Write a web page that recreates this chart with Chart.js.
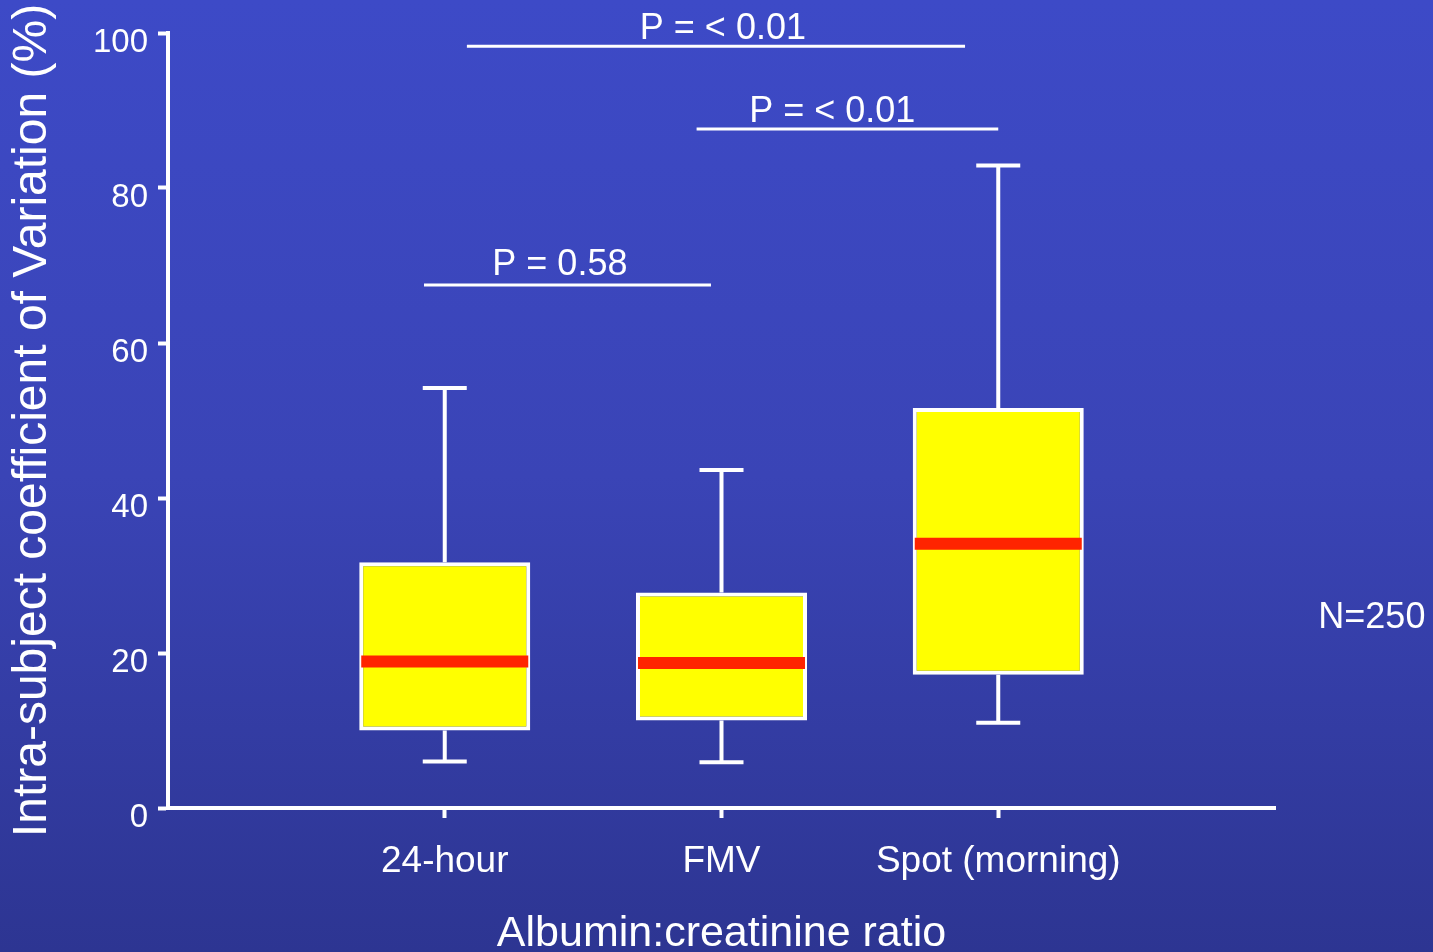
<!DOCTYPE html>
<html>
<head>
<meta charset="utf-8">
<script src="https://cdn.jsdelivr.net/npm/chart.js@4.4.1/dist/chart.umd.min.js"></script>
<style>
  html, body { margin: 0; padding: 0; }
  body {
    width: 1433px; height: 952px; overflow: hidden;
    background: linear-gradient(to bottom, #3d4ac7 0%, #3a44b6 50%, #2d3592 100%);
  }
  #chart { display: block; }
</style>
</head>
<body>
<canvas id="chart" width="1433" height="952"></canvas>
<script>
const categories = ['24-hour', 'FMV', 'Spot (morning)'];
const catPos = [1, 2, 3];
const q1 = [10.0, 11.3, 17.2];
const q3 = [31.7, 27.8, 51.6];
const medians = [18.9, 18.7, 34.1];
const whiskerLow = [6.0, 5.9, 11.0];
const whiskerHigh = [54.2, 43.6, 82.9];

// significance brackets (data units)
const sigLabels = ['P = < 0.01', 'P = < 0.01', 'P = 0.58'];
const sigFrom = [1.08, 1.91, 0.925];
const sigTo = [2.88, 3.0, 1.962];
const sigLevel = [98.3, 87.6, 67.5];
const sigTextX = [2.005, 2.40, 1.416];
const sigTextLevel = [100.5, 89.8, 70.0];

const noteText = 'N=250';
const notePos = [4.35, 24.5];

const font = 'Liberation Sans, Arial, Helvetica, sans-serif';

const boxPlugin = {
    id: 'boxParts',
    beforeDatasetsDraw(chart) {
        const { ctx, scales: { x, y } } = chart;
        const capHalf = 22;
        ctx.save();
        ctx.strokeStyle = '#ffffff';
        ctx.lineWidth = 4;
        catPos.forEach((c, i) => {
            const px = x.getPixelForValue(c);
            const top = y.getPixelForValue(whiskerHigh[i]);
            const bot = y.getPixelForValue(whiskerLow[i]);
            ctx.beginPath();
            ctx.moveTo(px, top); ctx.lineTo(px, y.getPixelForValue(q3[i]));
            ctx.moveTo(px, bot); ctx.lineTo(px, y.getPixelForValue(q1[i]));
            ctx.moveTo(px - capHalf, top); ctx.lineTo(px + capHalf, top);
            ctx.moveTo(px - capHalf, bot); ctx.lineTo(px + capHalf, bot);
            ctx.stroke();
        });
        ctx.restore();
    },
    afterDatasetsDraw(chart) {
        const { ctx, scales: { y } } = chart;
        const meta = chart.getDatasetMeta(0);
        ctx.save();
        ctx.strokeStyle = '#ff2400';
        ctx.lineWidth = 12;
        medians.forEach((m, i) => {
            const bar = meta.data[i];
            const half = bar.width / 2 - 2;
            const py = y.getPixelForValue(m);
            ctx.beginPath();
            ctx.moveTo(bar.x - half, py);
            ctx.lineTo(bar.x + half, py);
            ctx.stroke();
        });
        ctx.restore();
    },
    afterDraw(chart) {
        const { ctx, scales: { x, y } } = chart;
        ctx.save();
        ctx.strokeStyle = '#ffffff';
        ctx.fillStyle = '#ffffff';
        ctx.lineWidth = 3;
        ctx.font = '36px ' + font;
        ctx.textAlign = 'center';
        ctx.textBaseline = 'middle';
        sigLabels.forEach((lab, i) => {
            const ly = y.getPixelForValue(sigLevel[i]);
            ctx.beginPath();
            ctx.moveTo(x.getPixelForValue(sigFrom[i]), ly);
            ctx.lineTo(x.getPixelForValue(sigTo[i]), ly);
            ctx.stroke();
            ctx.fillText(lab, x.getPixelForValue(sigTextX[i]), y.getPixelForValue(sigTextLevel[i]));
        });
        ctx.fillText(noteText, x.getPixelForValue(notePos[0]), y.getPixelForValue(notePos[1]));
        ctx.restore();
    }
};

new Chart(document.getElementById('chart'), {
    type: 'bar',
    data: {
        datasets: [{
            label: 'IQR',
            data: catPos.map((c, i) => ({ x: c, y: [q1[i], q3[i]] })),
            backgroundColor: '#ffff00',
            borderColor: '#ffffff',
            borderWidth: 4,
            borderSkipped: false,
            barPercentage: 0.618,
            categoryPercentage: 1
        }]
    },
    options: {
        responsive: false,
        animation: false,
        events: [],
        layout: { padding: { top: 33, right: 158, left: 0, bottom: 0 } },
        plugins: { legend: { display: false }, tooltip: { enabled: false } },
        scales: {
            x: {
                type: 'linear',
                min: 0, max: 4,
                offset: false,
                afterBuildTicks: s => { s.ticks = catPos.map(v => ({ value: v })); },
                afterFit: s => { s.height = 144; },
                grid: { drawOnChartArea: false, offset: false, tickLength: 10, tickColor: '#ffffff', tickWidth: 4 },
                border: { display: true, color: '#ffffff', width: 4 },
                ticks: {
                    color: '#ffffff',
                    font: { family: font, size: 37 },
                    padding: 22,
                    maxRotation: 0,
                    autoSkip: false,
                    callback: v => categories[catPos.indexOf(v)] || ''
                },
                title: {
                    display: true,
                    text: 'Albumin:creatinine ratio',
                    color: '#ffffff',
                    font: { family: font, size: 43, lineHeight: 1 },
                    padding: { top: 0, bottom: -4 }
                }
            },
            y: {
                min: 0, max: 100,
                afterFit: s => { s.width = 168; },
                grid: { drawOnChartArea: false, tickLength: 10, tickColor: '#ffffff', tickWidth: 4 },
                border: { display: true, color: '#ffffff', width: 4 },
                ticks: {
                    stepSize: 20,
                    color: '#ffffff',
                    font: { family: font, size: 33 },
                    padding: 10,
                    labelOffset: 10
                },
                title: {
                    display: true,
                    text: 'Intra-subject coefficient of Variation (%)',
                    color: '#ffffff',
                    font: { family: font, size: 48, lineHeight: 1 },
                    padding: { top: 9, bottom: 0 }
                }
            }
        }
    },
    plugins: [boxPlugin]
});
</script>
</body>
</html>
